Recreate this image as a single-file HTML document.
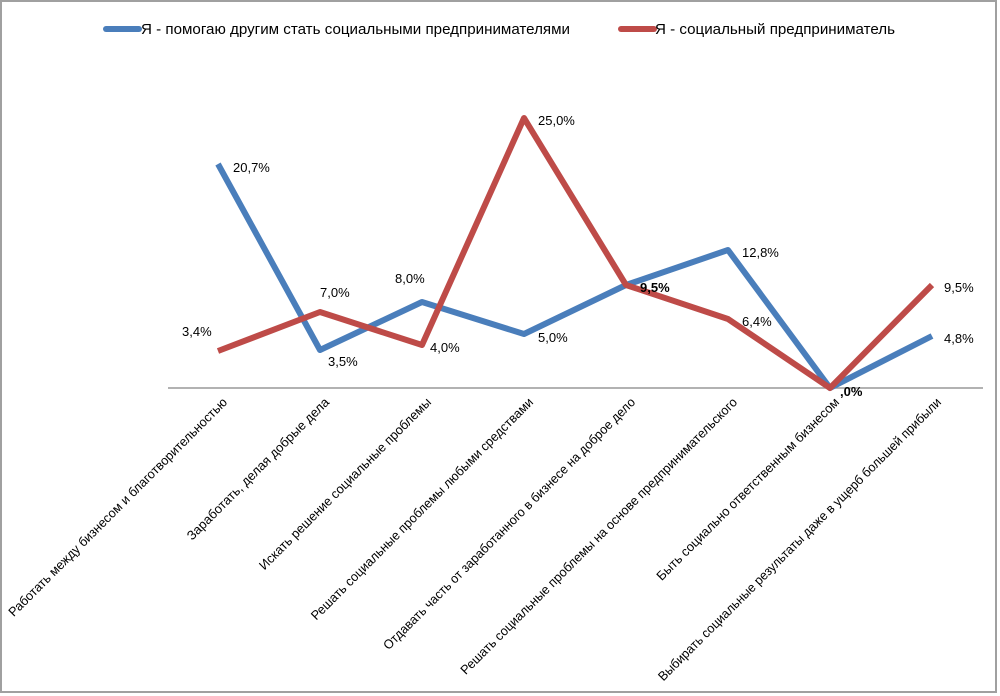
<!DOCTYPE html>
<html><head><meta charset="utf-8"><style>
body{margin:0;background:#fff}
svg{display:block;font-family:"Liberation Sans",sans-serif}
</style></head><body>
<svg width="1000" height="696" viewBox="0 0 1000 696">
<rect x="1" y="1" width="995" height="691" fill="#fff" stroke="#a0a0a0" stroke-width="2"/>
<line x1="106" y1="29" x2="139" y2="29" stroke="#4a7ebb" stroke-width="6" stroke-linecap="round"/>
<text x="141" y="34" font-size="14.5" textLength="429" lengthAdjust="spacingAndGlyphs">Я - помогаю другим стать социальными предпринимателями</text>
<line x1="621" y1="29" x2="654" y2="29" stroke="#be4b48" stroke-width="6" stroke-linecap="round"/>
<text x="655" y="34" font-size="14.5" textLength="240" lengthAdjust="spacingAndGlyphs">Я - социальный предприниматель</text>
<line x1="168" y1="388" x2="983" y2="388" stroke="#999" stroke-width="1.5"/>
<polyline fill="none" stroke="#4a7ebb" stroke-width="6" stroke-linejoin="round" points="218,164 320,350 422,302 524,334 626,285 728,250 830,388 932,336"/>
<polyline fill="none" stroke="#be4b48" stroke-width="6" stroke-linejoin="round" points="218,351 320,312 422,345 524,118 626,285 728,319 830,388 932,285"/>
<g font-size="13" fill="#000">
<text x="233" y="172">20,7%</text>
<text x="182" y="336">3,4%</text>
<text x="328" y="366">3,5%</text>
<text x="320" y="297">7,0%</text>
<text x="395" y="283">8,0%</text>
<text x="430" y="352">4,0%</text>
<text x="538" y="342">5,0%</text>
<text x="538" y="125">25,0%</text>
<text x="640" y="292" font-weight="bold">9,5%</text>
<text x="742" y="257">12,8%</text>
<text x="742" y="326">6,4%</text>
<text x="840" y="396" font-weight="bold">,0%</text>
<text x="944" y="292">9,5%</text>
<text x="944" y="343">4,8%</text>
</g>
<g font-size="13" fill="#000" text-anchor="end" lengthAdjust="spacingAndGlyphs">
<text transform="translate(228,403) rotate(-45)" textLength="303" lengthAdjust="spacingAndGlyphs">Работать между бизнесом и благотворительностью</text>
<text transform="translate(330,403) rotate(-45)" textLength="195" lengthAdjust="spacingAndGlyphs">Заработать, делая добрые дела</text>
<text transform="translate(432,403) rotate(-45)" textLength="237" lengthAdjust="spacingAndGlyphs">Искать решение социальные проблемы</text>
<text transform="translate(534,403) rotate(-45)" textLength="308" lengthAdjust="spacingAndGlyphs">Решать социальные проблемы любыми средствами</text>
<text transform="translate(636,403) rotate(-45)" textLength="350" lengthAdjust="spacingAndGlyphs">Отдавать часть от заработанного в бизнесе на доброе дело</text>
<text transform="translate(738,403) rotate(-45)" textLength="385" lengthAdjust="spacingAndGlyphs">Решать социальные проблемы на основе предпринимательского</text>
<text transform="translate(840,403) rotate(-45)" textLength="252" lengthAdjust="spacingAndGlyphs">Быть социально ответственным бизнесом</text>
<text transform="translate(942,403) rotate(-45)" textLength="394" lengthAdjust="spacingAndGlyphs">Выбирать социальные результаты даже в ущерб большей прибыли</text>
</g>
</svg>
</body></html>
